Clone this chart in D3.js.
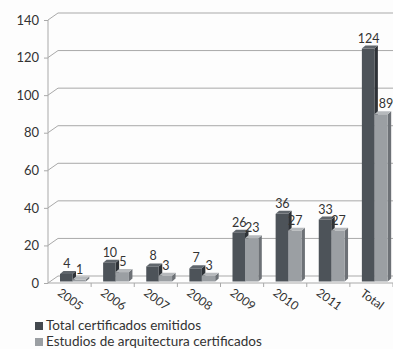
<!DOCTYPE html>
<html><head><meta charset="utf-8">
<script src="https://cdn.jsdelivr.net/npm/d3@7"></script>
<style>
html,body{margin:0;padding:0;background:#fdfdfd;}
svg{display:block;font-family:Lato,"Open Sans",sans-serif;}
</style></head>
<body>
<svg id="c" width="393" height="349"></svg>
<script>
const categories = ["2005","2006","2007","2008","2009","2010","2011","Total"];
const seriesNames = ["Total certificados emitidos","Estudios de arquitectura certificados"];
const totalEmitidos = [4,10,8,7,26,36,33,124];
const arquitectura = [1,5,3,3,23,27,27,89];
const yTicks = [0,20,40,60,80,100,120,140];

const svg = d3.select("#c");
const gridC = "#a9a9a9", textC = "#333";
const depthX = 10, depthY = -7;      // wall depth
const bdx = 3.5, bdy = -3;            // bar depth

const y = d3.scaleLinear().domain([0,140]).range([283,20]);
const x = d3.scaleBand().domain(categories).range([48,393]).padding(0);
const xs = d3.scaleBand().domain([0,1]).range([12,38]).padding(0);

// gridlines with 3D diagonal
yTicks.forEach(t=>{
  const yy = y(t);
  svg.append("path").attr("d",`M48,${yy}L${48+depthX},${yy+depthY}L393,${yy+depthY}`)
    .attr("fill","none").attr("stroke",gridC).attr("stroke-width",1);
});
// floor front edge
svg.append("line").attr("x1",48).attr("x2",393).attr("y1",y(0)).attr("y2",y(0))
  .attr("stroke",gridC).attr("stroke-width",1.2);

// y axis
const yAxis = d3.axisLeft(y).tickValues(yTicks).tickSize(4).tickPadding(5);
const gy = svg.append("g").attr("transform","translate(48,0)").call(yAxis);
gy.select(".domain").attr("stroke",gridC).attr("d",`M-0,${y(140)}V${y(0)}`);
gy.selectAll(".tick line").attr("stroke",gridC);
gy.selectAll("text").attr("fill",textC).attr("font-size",13).attr("font-family","Lato");

// x ticks
const gx = svg.append("g");
categories.forEach((c,i)=>{
  const bx = x(c) + x.bandwidth();
  gx.append("line").attr("x1",bx).attr("x2",bx).attr("y1",y(0)).attr("y2",y(0)+4).attr("stroke",gridC);
  gx.append("text").text(c)
    .attr("transform",`translate(${x(c)+x.bandwidth()/2+1},${299}) rotate(36)`)
    .attr("text-anchor","middle").attr("dominant-baseline","central")
    .attr("font-size",12).attr("fill",textC);
});

// bars
const colors = [
  {front:"#4d5359", side:"#2e3237", top:"#60666c"},
  {front:"#9b9fa3", side:"#6d7176", top:"#b6b9bc"}
];
const widths = [12.5, 13.3];
const base = y(0) - 1.5;
const data = [totalEmitidos, arquitectura];
const gb = svg.append("g");
categories.forEach((c,i)=>{
  let left = x(c) + xs(0);
  let prevRight = null, prevTop = null;
  [0,1].forEach(s=>{
    const v = data[s][i];
    const w = widths[s];
    const h = y(0) - y(v);
    const top = base - h;
    const col = colors[s];
    // side
    gb.append("path").attr("d",`M${left+w},${base}L${left+w+bdx},${base+bdy}L${left+w+bdx},${top+bdy}L${left+w},${top}Z`).attr("fill",col.side);
    // top
    gb.append("path").attr("d",`M${left},${top}L${left+bdx},${top+bdy}L${left+w+bdx},${top+bdy}L${left+w},${top}Z`).attr("fill",col.top);
    // front
    gb.append("rect").attr("x",left).attr("y",top).attr("width",w).attr("height",h).attr("fill",col.front);
    // label (nudged right if it would sit over the neighbouring taller bar's side)
    let lx = left + w/2 + 0.5;
    const halfW = String(v).length * 3.6;
    if (prevRight !== null && prevTop < top - 20 && lx - halfW < prevRight + bdx + 1) {
      lx = prevRight + bdx + 1 + halfW;
    }
    gb.append("text").text(v).attr("x",lx).attr("y",top-6)
      .attr("text-anchor","middle").attr("font-size",12.5).attr("fill",textC);
    prevRight = left + w; prevTop = top;
    left += w;
  });
});

// legend
const lg = svg.append("g");
seriesNames.forEach((n,i)=>{
  const yy = 330 + i*16;
  lg.append("rect").attr("x",35).attr("y",yy-8).attr("width",8).attr("height",8)
    .attr("fill", i===0 ? "#43484e" : "#9b9fa3");
  lg.append("text").text(n).attr("x",46).attr("y",yy).attr("font-size",13.5).attr("fill",textC);
});
</script>
</body></html>
